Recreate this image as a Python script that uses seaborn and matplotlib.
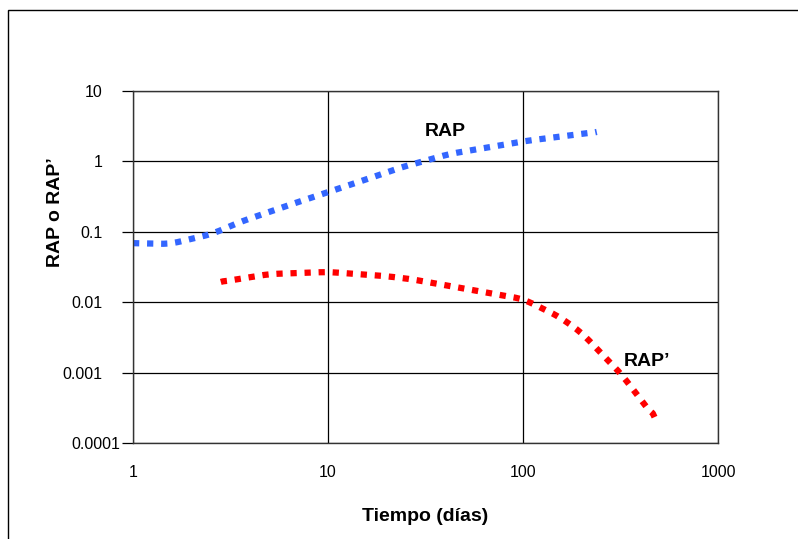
import numpy as np
import pandas as pd
import seaborn as sns
import matplotlib.pyplot as plt
import matplotlib.ticker as mticker
import matplotlib.transforms as mtransforms
from matplotlib.patches import Rectangle

# data (days vs ratio)
rap_t = [1.0, 1.54, 2.54, 3.54, 5.9, 10.0, 15.4, 24.9, 28.8, 41.6, 103.0, 239.0]
rap_v = [0.069, 0.067, 0.093, 0.138, 0.225, 0.367, 0.545, 0.86, 0.95, 1.27, 1.95, 2.62]

rapd_t = [2.82, 4.99, 10.0, 19.4, 26.3, 100.0, 151.0, 198.0, 281.0, 315.0, 475.0]
rapd_v = [0.0194, 0.0251, 0.0269, 0.0236, 0.0214, 0.0111, 0.00637, 0.00378, 0.00137, 0.001, 0.000226]

x_ticks = [1, 10, 100, 1000]
x_labels = ["1", "10", "100", "1000"]
y_ticks = [0.0001, 0.001, 0.01, 0.1, 1, 10]
y_labels = ["0.0001", "0.001", "0.01", "0.1", "1", "10"]


def smooth(t, v, n=200):
    # interpolate in log-log space, then a light moving average for a smooth curve
    lt, lv = np.log10(t), np.log10(v)
    xs = np.linspace(lt[0], lt[-1], n)
    ys = np.interp(xs, lt, lv)
    k = 9
    pad = np.pad(ys, k // 2, mode="edge")
    ys = np.convolve(pad, np.ones(k) / k, mode="valid")
    ys[0], ys[-1] = lv[0], lv[-1]
    return 10 ** xs, 10 ** ys


t1, v1 = smooth(rap_t, rap_v)
t2, v2 = smooth(rapd_t, rapd_v)
df = pd.concat([
    pd.DataFrame({"t": t1, "v": v1, "serie": "RAP"}),
    pd.DataFrame({"t": t2, "v": v2, "serie": "RAP'"}),
])

sns.set_theme(style="white")
plt.rcParams["font.family"] = ["Liberation Sans", "DejaVu Sans"]
plt.rcParams.update({"text.color": "black", "axes.labelcolor": "black",
                     "xtick.color": "black", "ytick.color": "black"})

W, H = 798, 539
fig = plt.figure(figsize=(W / 100, H / 100), dpi=100)
ax = fig.add_axes([133 / W, 1 - 443 / H, (718 - 133) / W, (443 - 91) / H])

sns.lineplot(
    data=df, x="t", y="v", hue="serie",
    palette={"RAP": "#3366ff", "RAP'": "#ff0000"},
    linewidth=4.5, sort=False, estimator=None, legend=False, ax=ax,
)
for ln in ax.get_lines():
    ln.set_linestyle((0, (1, 1.25)))
    ln.set_dash_capstyle("butt")

ax.set_xscale("log")
ax.set_yscale("log")
ax.set_xlim(1, 1000)
ax.set_ylim(0.0001, 10)
ax.xaxis.set_major_locator(mticker.FixedLocator(x_ticks))
ax.xaxis.set_major_formatter(mticker.FixedFormatter(x_labels))
ax.yaxis.set_major_locator(mticker.FixedLocator(y_ticks))
ax.yaxis.set_major_formatter(mticker.FixedFormatter(y_labels))
ax.xaxis.set_minor_locator(mticker.NullLocator())
ax.yaxis.set_minor_locator(mticker.NullLocator())

ax.grid(True, color="black", linewidth=0.9)
ax.tick_params(axis="y", direction="out", length=8, width=0.9, color="black",
               pad=14, labelsize=11.5, left=True)
ax.tick_params(axis="x", length=0, pad=16, labelsize=11.5)
for s in ax.spines.values():
    s.set_color("#333333")
    s.set_linewidth(1.0)

# the bottom label sits nudged to the right, against the axis
fig.canvas.draw()
lbl = ax.get_yticklabels()[0]
lbl.set_transform(lbl.get_transform() + mtransforms.ScaledTranslation(13 / 72, 0, fig.dpi_scale_trans))

ax.set_xlabel("Tiempo (días)", fontsize=14, fontweight="bold", labelpad=20)
ax.set_ylabel("")
fig.text(55 / W, 1 - 212 / H, "RAP o RAP’", rotation=90, fontsize=14,
         fontweight="bold", ha="center", va="center")

ax.text(40, 2.7, "RAP", fontsize=14, fontweight="bold", ha="center", va="center")
ax.text(330, 0.00146, "RAP’", fontsize=14, fontweight="bold", ha="left", va="center")

# outer chart border, runs off the right and bottom edges
fig.patches.append(Rectangle((8 / W, -0.1), 1.2, 1.1 - 10 / H, transform=fig.transFigure,
                             fill=False, edgecolor="black", linewidth=1.0))

fig.savefig("out.png", dpi=100)
